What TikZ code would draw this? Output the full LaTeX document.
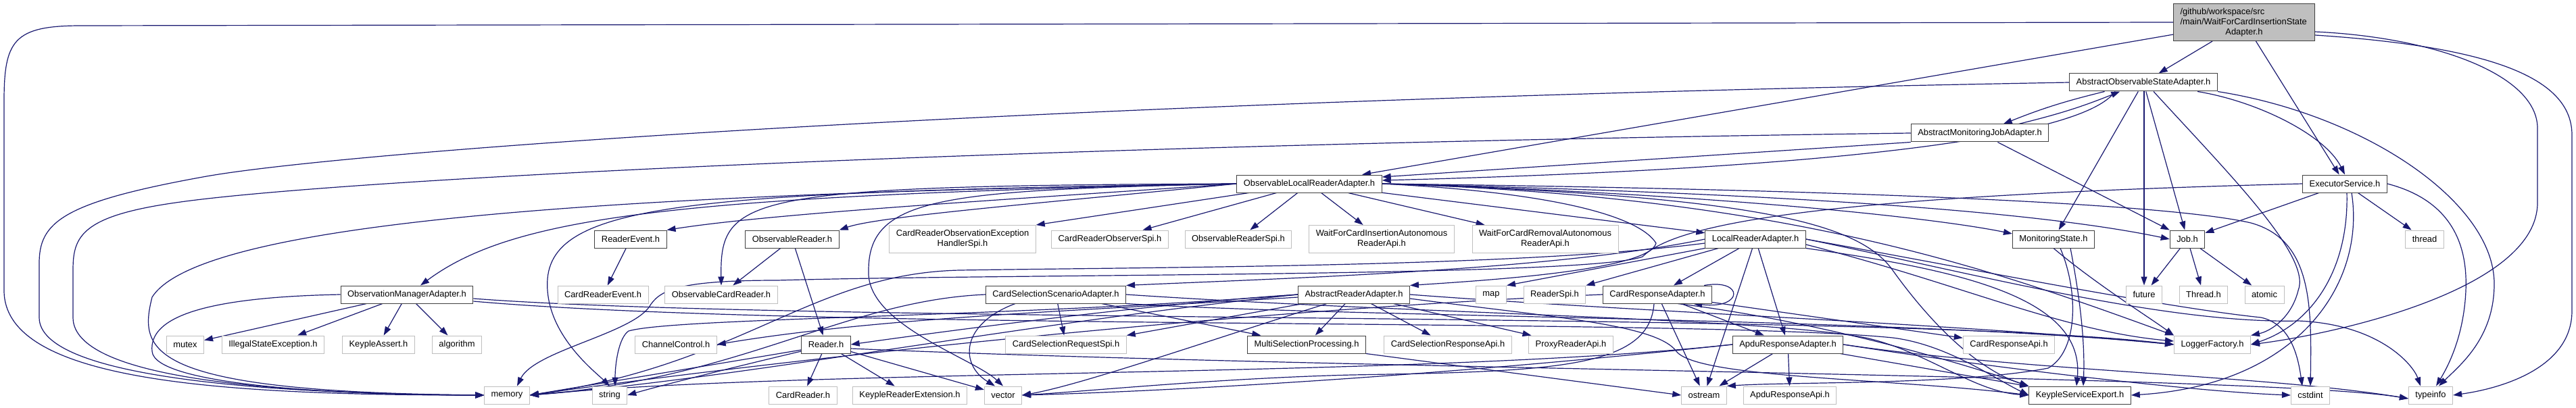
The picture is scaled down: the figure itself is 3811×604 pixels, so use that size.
\documentclass[tikz,border=0pt]{standalone}
\usepackage{fontspec}
\setmainfont{Liberation Sans}
\usepackage{tikz}
\usetikzlibrary{arrows.meta,backgrounds}
\definecolor{cEdge}{HTML}{191970}
\definecolor{cExt}{HTML}{BFBFBF}
\definecolor{cRoot}{HTML}{BFBFBF}
\definecolor{cBorder}{HTML}{404040}
\newcommand{\hdrfont}{\fontsize{12.9}{15}\selectfont}
\tikzset{
  hdr/.style    ={draw=cBorder, fill=white, font=\hdrfont, align=center, line width=1pt,
                  minimum height=26pt, inner xsep=10pt, inner ysep=2pt},
  ext/.style    ={hdr, draw=cExt},
  twoline/.style={minimum height=41pt},
  rootbox/.style={hdr, fill=cRoot, align=left, text width=189pt, minimum height=55pt},
  incl/.style   ={-{Triangle[length=13pt,width=9pt]}, draw=cEdge, line width=1.2pt},
}

\begin{document}
\begin{tikzpicture}[x=1pt, y=-1pt]
  \useasboundingbox (0,0) rectangle (3811,604);
  \node[rootbox] (root) at (3320,33){/github/workspace/src\\/main/WaitForCardInsertionState\\\makebox[189pt]{Adapter.h}};
  \node[hdr] (aosa) at (3171,122){AbstractObservableStateAdapter.h};
  \node[hdr] (amja) at (2929,197){AbstractMonitoringJobAdapter.h};
  \node[hdr] (olra) at (1937,272){ObservableLocalReaderAdapter.h};
  \node[hdr] (exsvc) at (3469,272){ExecutorService.h};
  \node[hdr] (rdevt) at (933,354){ReaderEvent.h};
  \node[hdr] (obsrd) at (1172,354){ObservableReader.h};
  \node[ext,twoline] (crohs) at (1424,354){CardReaderObservationException\\HandlerSpi.h};
  \node[ext] (crobs) at (1642,354){CardReaderObserverSpi.h};
  \node[ext] (obrspi) at (1832,354){ObservableReaderSpi.h};
  \node[ext,twoline] (wfci) at (2044,354){WaitForCardInsertionAutonomous\\ReaderApi.h};
  \node[ext,twoline] (wfcr) at (2286,354){WaitForCardRemovalAutonomous\\ReaderApi.h};
  \node[hdr] (lra) at (2597,354){LocalReaderAdapter.h};
  \node[hdr] (mstate) at (3038,354){MonitoringState.h};
  \node[hdr] (job) at (3236,354){Job.h};
  \node[ext] (thrd) at (3587,354){thread};
  \node[hdr] (oma) at (602,436){ObservationManagerAdapter.h};
  \node[ext] (crevt) at (892,436){CardReaderEvent.h};
  \node[ext] (obcr) at (1067,436){ObservableCardReader.h};
  \node[hdr] (cssa) at (1562,436){CardSelectionScenarioAdapter.h};
  \node[hdr] (ara) at (2003,436){AbstractReaderAdapter.h};
  \node[ext] (map) at (2206,436){map};
  \node[ext] (rspi) at (2300,436){ReaderSpi.h};
  \node[hdr] (cra) at (2452,436){CardResponseAdapter.h};
  \node[ext] (future) at (3172,436){future};
  \node[ext] (thrdh) at (3260,436){Thread.h};
  \node[ext] (atomic) at (3350,436){atomic};
  \node[ext] (mutex) at (274,510){mutex};
  \node[ext] (ise) at (404,510){IllegalStateException.h};
  \node[ext] (kassert) at (560,510){KeypleAssert.h};
  \node[ext] (algo) at (676,510){algorithm};
  \node[ext] (chctl) at (1000,510){ChannelControl.h};
  \node[hdr] (reader) at (1222,510){Reader.h};
  \node[ext] (csrs) at (1577,510){CardSelectionRequestSpi.h};
  \node[hdr] (msp) at (1933,510){MultiSelectionProcessing.h};
  \node[ext] (csra) at (2142,510){CardSelectionResponseApi.h};
  \node[ext] (proxy) at (2324,510){ProxyReaderApi.h};
  \node[hdr] (apdua) at (2645,510){ApduResponseAdapter.h};
  \node[ext] (crapi) at (2972,510){CardResponseApi.h};
  \node[ext] (logf) at (3273,510){LoggerFactory.h};
  \node[ext] (memory) at (750,585){memory};
  \node[ext] (string) at (902,585){string};
  \node[ext] (cread) at (1188,585){CardReader.h};
  \node[ext] (kre) at (1346,585){KeypleReaderExtension.h};
  \node[ext] (vector) at (1484,585){vector};
  \node[ext] (ostream) at (2521,585){ostream};
  \node[ext] (apduapi) at (2648,585){ApduResponseApi.h};
  \node[hdr] (kse) at (3077,585){KeypleServiceExport.h};
  \node[ext] (cstdint) at (3418,585){cstdint};
  \node[ext] (typeinfo) at (3596,585){typeinfo};

  \begin{scope}[on background layer]
  % top of the graph
  \draw[incl] (root) -- (aosa); \draw[incl] (root) -- (olra); \draw[incl] (root) -- (exsvc);
  \draw[incl] (root.west) -- (120,38) .. controls (20,38) and (6,60) .. (6,150) -- (6,430) .. controls (6,560) and (300,585) .. (memory.west);
  \draw[incl] ([yshift=-14pt]root.east) .. controls (3600,55) and (3754,110) .. (3754,190) -- (3754,300) .. controls (3754,430) and (3450,495) .. (logf.east);
  \draw[incl] ([yshift=-19pt]root.east) .. controls (3700,70) and (3805,120) .. (3805,200) -- (3805,460) .. controls (3805,545) and (3700,575) .. (typeinfo.east);
  \draw[incl] (aosa) to[bend right=4] (amja); \draw[incl] (amja) to[bend right=4] (aosa);
  \draw[incl] ([xshift=-42pt]aosa.south) .. controls (3080,205) and (2700,250) .. ([yshift=5pt]olra.east);
  \draw[incl] (aosa.west) .. controls (1500,150) and (500,225) .. (300,262) .. controls (90,300) and (58,330) .. (58,390) -- (58,470) .. controls (58,560) and (400,583) .. (memory.west);
  \draw[incl] (aosa) -- (mstate); \draw[incl] (aosa.south -| future) -- (future); \draw[incl] (aosa) -- (job);
  \draw[incl] ([xshift=15pt]aosa.south) .. controls (3300,260) and (3420,380) .. (3400,430) .. controls (3390,470) and (3360,490) .. (logf.north east);
  \draw[incl] ([xshift=80pt]aosa.south) .. controls (3340,150) and (3440,200) .. (exsvc.north);
  \draw[incl] (aosa.south east) .. controls (3500,170) and (3690,300) .. (3690,420) .. controls (3690,500) and (3640,540) .. ([xshift=12pt]typeinfo.north);
  \draw[incl] (amja) -- (job);
  \draw[incl] (amja.south west) -- ([yshift=10pt]olra.east);
  \draw[incl] (amja.west) .. controls (1500,215) and (500,265) .. (260,300) .. controls (120,320) and (108,350) .. (108,400) -- (108,470) .. controls (108,560) and (400,583) .. (memory.west);
  \draw[incl] (exsvc) -- (job); \draw[incl] (exsvc) -- (thrd);
  \draw[incl] ([xshift=3pt]exsvc.south) .. controls (3475,400) and (3420,480) .. (logf.east);
  \draw[incl] ([xshift=10pt]exsvc.south) .. controls (3500,420) and (3400,570) .. (kse.east);
  \draw[incl] (exsvc.east) .. controls (3640,300) and (3650,380) .. (3648,430) .. controls (3645,500) and (3620,545) .. ([xshift=8pt]typeinfo.north);
  \draw[incl] (exsvc.west) .. controls (2700,290) and (2480,330) .. (2430,380) .. controls (2350,410) and (1500,405) .. (1150,415) .. controls (1000,415) and (975,430) .. (960,455) .. controls (930,495) and (790,520) .. ([xshift=15pt]memory.north);
  % ObservableLocalReaderAdapter.h
  \draw[incl] (olra.west) .. controls (1000,290) and (760,320) .. ([xshift=20pt]oma.north);
  \draw[incl] (olra.west) .. controls (1500,295) and (1150,315) .. (rdevt.north east);
  \draw[incl] (olra.west) .. controls (1550,300) and (1300,320) .. (obsrd.north east);
  \draw[incl] (olra.west) .. controls (1100,275) and (1065,290) .. (obcr.north);
  \draw[incl] (olra.west) .. controls (1000,285) and (300,320) .. (225,440) .. controls (205,520) and (215,580) .. (memory.west);
  \draw[incl] (olra.west) .. controls (1000,285) and (800,300) .. (810,430) .. controls (815,500) and (880,550) .. (string.north);
  \draw[incl] (olra.west) .. controls (1400,282) and (1285,290) .. (1285,400) .. controls (1280,480) and (1440,530) .. (vector.north);
  \draw[incl] (olra) -- (crohs.north east); \draw[incl] (olra) -- (crobs); \draw[incl] (olra) -- (obrspi);
  \draw[incl] (olra) -- (wfci); \draw[incl] (olra) -- (wfcr); \draw[incl] (olra) -- (lra);
  \draw[incl] (olra.east) .. controls (2500,285) and (2850,320) .. ([yshift=8pt]mstate.west);
  \draw[incl] (olra.east) .. controls (2600,285) and (3000,310) .. (job.west);
  \draw[incl] (olra.east) .. controls (2700,280) and (3200,300) .. (3330,330) .. controls (3420,355) and (3420,450) .. (cstdint.north);
  \draw[incl] (olra.east) .. controls (2650,290) and (2950,400) .. (logf.north west);
  \draw[incl] (olra.east) .. controls (2600,290) and (2750,330) .. (2800,400) .. controls (2850,470) and (2920,545) .. (kse.north west);
  \draw[incl] (olra.east) .. controls (2300,285) and (2425,320) .. (2450,360) .. controls (2440,400) and (2200,415) .. (ara.north east);
  % LocalReaderAdapter.h
  \draw[incl] (lra) -- (cra); \draw[incl] (lra) -- (ostream); \draw[incl] (lra) -- (apdua);
  \draw[incl] ([xshift=20pt]lra.south west) -- (rspi.north east); \draw[incl] (lra.south west) -- (map.north east);
  \draw[incl] (lra.west) .. controls (2300,400) and (1900,412) .. (cssa.north east);
  \draw[incl] ([yshift=-6pt]lra.west) .. controls (2250,395) and (1750,395) .. (1420,400) .. controls (1200,405) and (1100,540) .. (memory.east);
  \draw[incl] ([yshift=-8pt]lra.east) .. controls (2900,420) and (3050,490) .. ([yshift=5pt]logf.west);
  \draw[incl] (lra.south east) .. controls (2900,400) and (3085,440) .. ([xshift=-5pt]kse.north);
  \draw[incl] (lra.east) .. controls (2900,400) and (3200,480) .. (3400,475) .. controls (3520,480) and (3570,540) .. ([xshift=-15pt]typeinfo.north);
  \draw[incl] (lra.east) .. controls (2900,395) and (3200,455) .. (3345,470) .. controls (3390,480) and (3400,530) .. ([xshift=-12pt]cstdint.north);
  % CardResponseAdapter.h and ApduResponseAdapter.h
  \draw[incl] ([xshift=-12pt]cra.north east) .. controls (2580,412) and (2580,458) .. ([xshift=-28pt]cra.south east);
  \draw[incl] (cra) -- (ostream); \draw[incl] (cra) -- (apdua); \draw[incl] (cra) -- (crapi);
  \draw[incl] ([xshift=30pt]cra.south) .. controls (2650,470) and (2850,520) .. (kse.north west);
  \draw[incl] ([xshift=-5pt]cra.south) .. controls (2440,545) and (2300,550) .. (2000,555) .. controls (1800,560) and (1600,580) .. (vector.east);
  \draw[incl] (cra.west) .. controls (1800,460) and (1100,540) .. (memory.east);
  \draw[incl] (apdua) -- (ostream); \draw[incl] (apdua) -- (apduapi); \draw[incl] (apdua) -- (kse);
  \draw[incl] (apdua.east) .. controls (3000,550) and (3350,555) .. ([yshift=-5pt]typeinfo.west);
  \draw[incl] (apdua.east) .. controls (2950,545) and (3250,580) .. (cstdint.west);
  \draw[incl] (apdua.west) .. controls (2100,560) and (1200,545) .. (memory.east);
  \draw[incl] (apdua.west) .. controls (2100,560) and (1700,580) .. (vector.east);
  % MonitoringState.h and Job.h
  \draw[incl] ([xshift=10pt]mstate.south) .. controls (3075,430) and (3075,520) .. (3030,545) .. controls (2900,570) and (2650,565) .. (ostream.north east);
  \draw[incl] ([xshift=25pt]mstate.south) .. controls (3075,430) and (3085,500) .. ([xshift=5pt]kse.north);
  \draw[incl] (mstate.south) .. controls (3100,420) and (3180,470) .. (logf.north west);
  \draw[incl] (job) -- (future); \draw[incl] (job) -- (thrdh); \draw[incl] (job) -- (atomic);
  % ObservationManagerAdapter.h
  \draw[incl] (oma) -- (mutex); \draw[incl] (oma) -- (ise); \draw[incl] (oma) -- (kassert); \draw[incl] (oma) -- (algo);
  \draw[incl] (oma.west) .. controls (300,440) and (220,470) .. (225,520) .. controls (228,570) and (500,585) .. (memory.west);
  \draw[incl] ([yshift=-6pt]oma.east) .. controls (1200,480) and (2800,460) .. (logf.west);
  \draw[incl] ([yshift=-10pt]oma.east) .. controls (1200,490) and (2500,470) .. (2800,500) .. controls (2880,510) and (2950,560) .. (kse.west);
  \draw[incl] (rdevt) -- (crevt); \draw[incl] (obsrd) -- (obcr); \draw[incl] (obsrd) -- (reader);
  % Reader.h
  \draw[incl] (reader) -- (cread); \draw[incl] (reader) -- (kre); \draw[incl] (reader) -- (vector);
  \draw[incl] ([yshift=-8pt]reader.west) -- (memory.east);
  \draw[incl] ([yshift=-10pt]reader.west) .. controls (1100,540) and (980,570) .. (string.east);
  \draw[incl] ([yshift=-6pt]reader.east) .. controls (2000,548) and (3350,555) .. ([yshift=-5pt]typeinfo.west);
  % CardSelectionScenarioAdapter.h
  \draw[incl] (cssa) -- (csrs); \draw[incl] (cssa) -- (msp);
  \draw[incl] ([xshift=-60pt]cssa.south) .. controls (1420,480) and (1420,540) .. ([xshift=-12pt]vector.north);
  \draw[incl] (cssa.west) .. controls (1250,445) and (1100,560) .. (memory.east);
  \draw[incl] (cssa.south east) .. controls (2000,470) and (2800,470) .. (logf.west);
  \draw[incl] (cssa.east) .. controls (2100,465) and (2600,470) .. (2760,500) .. controls (2850,520) and (2920,580) .. (kse.west);
  % AbstractReaderAdapter.h
  \draw[incl] (ara) -- (msp); \draw[incl] (ara) -- (csra); \draw[incl] (ara) -- (proxy); \draw[incl] (ara) -- (csrs.north east);
  \draw[incl] (ara.west) .. controls (1700,450) and (1400,490) .. (reader.east);
  \draw[incl] ([yshift=-4pt]ara.west) .. controls (1600,460) and (1300,470) .. (chctl.east);
  \draw[incl] ([xshift=-40pt]ara.south) .. controls (1800,500) and (1600,570) .. (vector.east);
  \draw[incl] (ara.west) .. controls (1500,480) and (1100,560) .. (memory.east);
  \draw[incl] (ara.west) .. controls (1500,470) and (1000,470) .. (930,490) .. controls (915,500) and (910,540) .. ([xshift=8pt]string.north);
  \draw[incl] (ara.east) .. controls (2400,460) and (2900,480) .. (logf.west);
  \draw[incl] ([yshift=-6pt]ara.east) .. controls (2300,470) and (2450,480) .. (2480,520) .. controls (2510,560) and (2800,560) .. (kse.west);
  \draw[incl] (msp.south east) -- (ostream.west);
  \end{scope}
\end{tikzpicture}
\end{document}
